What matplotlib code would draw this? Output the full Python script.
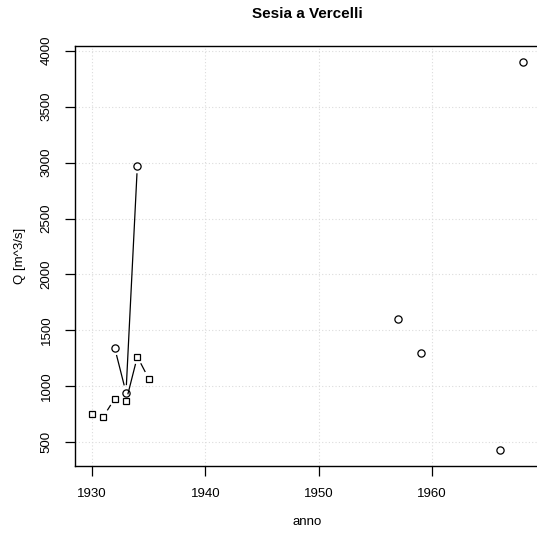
import matplotlib
matplotlib.use("Agg")
import matplotlib.pyplot as plt
import numpy as np

plt.rcParams['font.family'] = ['Liberation Sans', 'DejaVu Sans']

# dati
anni_cerchi = [1932, 1933, 1934, 1957, 1959, 1966, 1968]
q_cerchi = [1345, 945, 2970, 1600, 1300, 430, 3900]
anni_quadrati = [1930, 1931, 1932, 1933, 1934, 1935]
q_quadrati = [755, 730, 890, 865, 1265, 1070]
xticks = [1930, 1940, 1950, 1960]
yticks = [500, 1000, 1500, 2000, 2500, 3000, 3500, 4000]

W, H = 537, 536
fig = plt.figure(figsize=(W / 100, H / 100), dpi=100)
# il riquadro esce a destra dall'immagine, come nell'originale
ax = fig.add_axes([74.8 / W, (H - 465.7) / H, 465.0 / W, 419.4 / H])

# limiti come in R: range +- 4%
all_x = np.array(anni_cerchi + anni_quadrati, dtype=float)
all_y = np.array(q_cerchi + q_quadrati, dtype=float)
dx = (all_x.max() - all_x.min()) * 0.04
dy = (all_y.max() - all_y.min()) * 0.04
ax.set_xlim(all_x.min() - dx, all_x.max() + dx)
ax.set_ylim(all_y.min() - dy, all_y.max() + dy)

ax.set_xticks(xticks)
ax.set_yticks(yticks)
ax.grid(True, color='#dcdcdc', linestyle=(0, (1, 2)), linewidth=0.8)
ax.set_axisbelow(True)


def linee_b(xs, ys, gap=8.0):
    # tipo "b" di R: segmenti tra anni consecutivi con spazio attorno ai punti
    tr = ax.transData
    inv = tr.inverted()
    for i in range(len(xs) - 1):
        if xs[i + 1] - xs[i] != 1:
            continue
        p0 = tr.transform((xs[i], ys[i]))
        p1 = tr.transform((xs[i + 1], ys[i + 1]))
        d = p1 - p0
        n = np.hypot(*d)
        if n <= 2 * gap:
            continue
        u = d / n
        a = inv.transform(p0 + u * gap)
        b = inv.transform(p1 - u * gap)
        ax.plot([a[0], b[0]], [a[1], b[1]], color='black', lw=0.9)


linee_b(anni_cerchi, q_cerchi)
linee_b(anni_quadrati, q_quadrati)

ax.plot(anni_cerchi, q_cerchi, 'o', mfc='none', mec='black', ms=5.2, mew=0.9)
ax.plot(anni_quadrati, q_quadrati, 's', mfc='none', mec='black', ms=4.3, mew=0.9)

for s in ['left', 'bottom', 'top', 'right']:
    ax.spines[s].set_linewidth(1.0)
    ax.spines[s].set_color('black')

ax.tick_params(axis='both', length=7, width=0.9, labelsize=9.5, pad=9.0, colors='black')
for lab in ax.get_yticklabels():
    lab.set_rotation(90)
    lab.set_va('center')
    lab.set_ha('right')

ax.set_xlabel('anno', fontsize=9.5)
ax.xaxis.label.set_va('center')
ax.xaxis.set_label_coords(0.5, (465.7 - 522) / 419.4)
ax.set_ylabel('Q [m^3/s]', fontsize=9.5)
ax.yaxis.label.set_va('center')
ax.yaxis.set_label_coords((20 - 74.8) / 465.0, 0.5)

ax.set_title('Sesia a Vercelli', fontsize=11, fontweight='bold',
             y=(465.7 - 14.5) / 419.4, va='center', pad=0)

fig.savefig('out.png', dpi=100)
